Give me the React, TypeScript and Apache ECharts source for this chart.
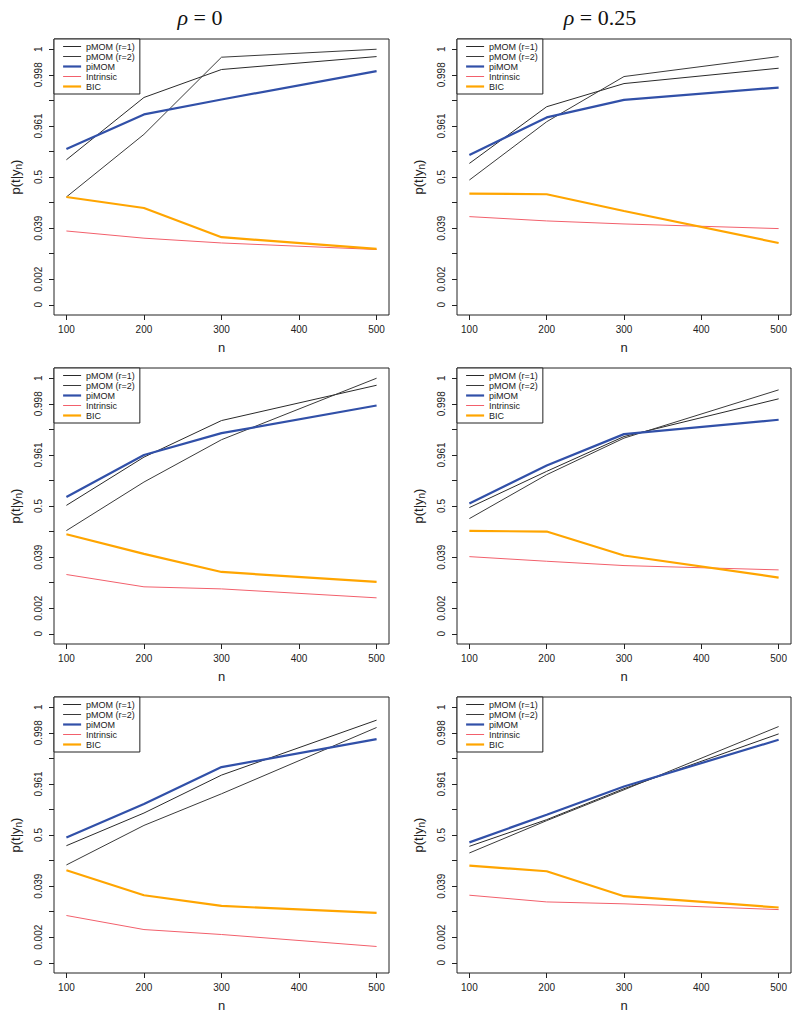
import React, { useEffect, useRef } from "react";
import * as echarts from "echarts";

// x values (sample size n)
const nValues = [100, 200, 300, 500];
const xTicks = [100, 200, 300, 400, 500];
// y axis is on the logit scale; ticks at these logit values
const yTickLogits = [-8, -6.4, -4.8, -3.2, -1.6, 0, 1.6, 3.2, 4.8, 6.4, 8];
const yLabelLogits = [-8, -6.4, -3.2, 0, 3.2, 6.4, 8];

const columnTitles = ["0", "0.25"];
const seriesNames = ["pMOM (r=1)", "pMOM (r=2)", "piMOM", "Intrinsic", "BIC"];

// values (logit of posterior probability), one row per panel:
// panel order: row1-left, row1-right, row2-left, row2-right, row3-left, row3-right
const pMOM1 = [
  [1.08, 4.98, 6.73, 7.54],
  [0.85, 4.4, 5.85, 6.81],
  [0.04, 3.06, 5.35, 7.56],
  [-0.1, 2.17, 4.35, 6.71],
  [-0.67, 1.375, 3.75, 7.19],
  [-0.71, 0.96, 2.9, 6.33],
];
const pMOM2 = [
  [-1.25, 2.67, 7.5, 8.0],
  [-0.19, 3.46, 6.29, 7.54],
  [-1.54, 1.5, 4.15, 8.0],
  [-0.79, 1.96, 4.25, 7.27],
  [-1.875, 0.6, 2.58, 6.73],
  [-1.125, 0.9, 2.83, 6.79],
];
const piMOM = [
  [1.75, 3.92, 4.85, 6.63],
  [1.375, 3.73, 4.83, 5.6],
  [0.56, 3.19, 4.56, 6.29],
  [0.15, 2.54, 4.5, 5.4],
  [-0.15, 1.94, 4.25, 6.0],
  [-0.46, 1.27, 3.04, 5.96],
];
const intrinsic = [
  [-3.38, -3.83, -4.13, -4.54],
  [-2.48, -2.75, -2.94, -3.23],
  [-4.29, -5.06, -5.19, -5.75],
  [-3.17, -3.46, -3.73, -4.0],
  [-5.04, -5.92, -6.23, -6.98],
  [-3.77, -4.19, -4.31, -4.67],
];
const bic = [
  [-1.25, -1.94, -3.77, -4.5],
  [-1.04, -1.08, -2.13, -4.13],
  [-1.77, -3.0, -4.13, -4.75],
  [-1.56, -1.6, -3.1, -4.48],
  [-2.21, -3.77, -4.44, -4.88],
  [-1.92, -2.27, -3.83, -4.54],
];

const seriesData = [pMOM1, pMOM2, piMOM, intrinsic, bic];
const seriesStyles = [
  { color: "#2a2a2a", width: 1 },
  { color: "#3a3a3a", width: 1 },
  { color: "#3150a8", width: 2.2 },
  { color: "#f2606c", width: 1 },
  { color: "#ffa500", width: 2.2 },
];

const colLeft = [54, 457];
const colWidth = [335, 334];
const rowTop = [39, 368, 697];
const boxHeight = 276;

const SANS = "Liberation Sans, Arial, Helvetica, sans-serif";

function expitLabel(v: number): string {
  const p = 1 / (1 + Math.exp(-v));
  return String(Math.round(p * 1000) / 1000);
}

export default function App() {
  const ref = useRef<HTMLDivElement>(null);

  useEffect(() => {
    if (!ref.current) return;
    const chart = echarts.init(ref.current, undefined, { renderer: "svg" });

    const grids: any[] = [];
    const xAxes: any[] = [];
    const yAxes: any[] = [];
    const series: any[] = [];
    const legends: any[] = [];

    for (let i = 0; i < 6; i++) {
      const r = Math.floor(i / 2);
      const c = i % 2;
      grids.push({
        left: colLeft[c],
        top: rowTop[r],
        width: colWidth[c],
        height: boxHeight,
        show: true,
        borderColor: "#222",
        borderWidth: 1,
        backgroundColor: "transparent",
        containLabel: false,
      });
      xAxes.push({
        type: "value",
        gridIndex: i,
        min: 84,
        max: 516,
        position: "bottom",
        axisLine: { show: false, onZero: false },
        splitLine: { show: false },
        axisTick: {
          show: true,
          inside: false,
          length: 5,
          customValues: xTicks,
          lineStyle: { color: "#222", width: 1 },
        },
        axisLabel: {
          show: true,
          customValues: xTicks,
          margin: 9,
          fontSize: 10,
          fontFamily: SANS,
          color: "#222",
        },
        name: "n",
        nameLocation: "middle",
        nameGap: 26,
        nameTextStyle: { fontSize: 13, fontFamily: SANS, color: "#222" },
      });
      yAxes.push({
        type: "value",
        gridIndex: i,
        min: -8.64,
        max: 8.64,
        position: "left",
        axisLine: { show: false, onZero: false },
        splitLine: { show: false },
        axisTick: {
          show: true,
          inside: false,
          length: 5,
          customValues: yTickLogits,
          lineStyle: { color: "#222", width: 1 },
        },
        axisLabel: {
          show: true,
          customValues: yLabelLogits,
          rotate: 90,
          margin: 11,
          fontSize: 10,
          fontFamily: SANS,
          color: "#222",
          formatter: (v: number) => expitLabel(v),
        },
        name: "p(t|y{s|n})",
        nameLocation: "middle",
        nameRotate: 90,
        nameGap: 31,
        nameTextStyle: {
          fontSize: 13,
          fontFamily: SANS,
          color: "#222",
          rich: {
            s: { fontSize: 10, fontFamily: SANS, color: "#222", verticalAlign: "bottom", padding: [6, 0, 0, 0] },
          },
        },
      });
      seriesNames.forEach((name, s) => {
        series.push({
          type: "line",
          name,
          xAxisIndex: i,
          yAxisIndex: i,
          symbol: "none",
          showSymbol: false,
          data: nValues.map((n, k) => [n, seriesData[s][i][k]]),
          lineStyle: { color: seriesStyles[s].color, width: seriesStyles[s].width },
          itemStyle: { color: seriesStyles[s].color },
          z: 2 + s,
        });
      });
      legends.push({
        left: colLeft[c],
        top: rowTop[r],
        orient: "vertical",
        data: seriesNames,
        borderColor: "#222",
        borderWidth: 1,
        borderRadius: 0,
        padding: [3, 5, 3, 8],
        itemWidth: 18,
        itemHeight: 8,
        itemGap: 1,
        selectedMode: false,
        itemStyle: { opacity: 0, borderWidth: 0 },
        lineStyle: { width: "inherit" },
        textStyle: { fontSize: 9, fontFamily: SANS, color: "#222", lineHeight: 8 },
        backgroundColor: "#fff",
      });
    }

    const graphic = columnTitles.map((t, c) => ({
      type: "text",
      x: 200 + 400 * c,
      y: 17,
      style: {
        text: "{i|ρ} = " + t,
        textAlign: "center",
        textVerticalAlign: "middle",
        font: "22px 'Liberation Serif', 'Times New Roman', serif",
        fill: "#111",
        rich: {
          i: { fontStyle: "italic", fontSize: 22, fontFamily: "Liberation Serif", fill: "#111" },
        },
      },
    }));

    chart.setOption({
      animation: false,
      backgroundColor: "#fff",
      grid: grids,
      xAxis: xAxes,
      yAxis: yAxes,
      legend: legends,
      series,
      graphic,
    });

    return () => chart.dispose();
  }, []);

  return (
    <div
      ref={ref}
      style={{ position: "absolute", left: 0, top: 0, width: 800, height: 1016 }}
    />
  );
}
